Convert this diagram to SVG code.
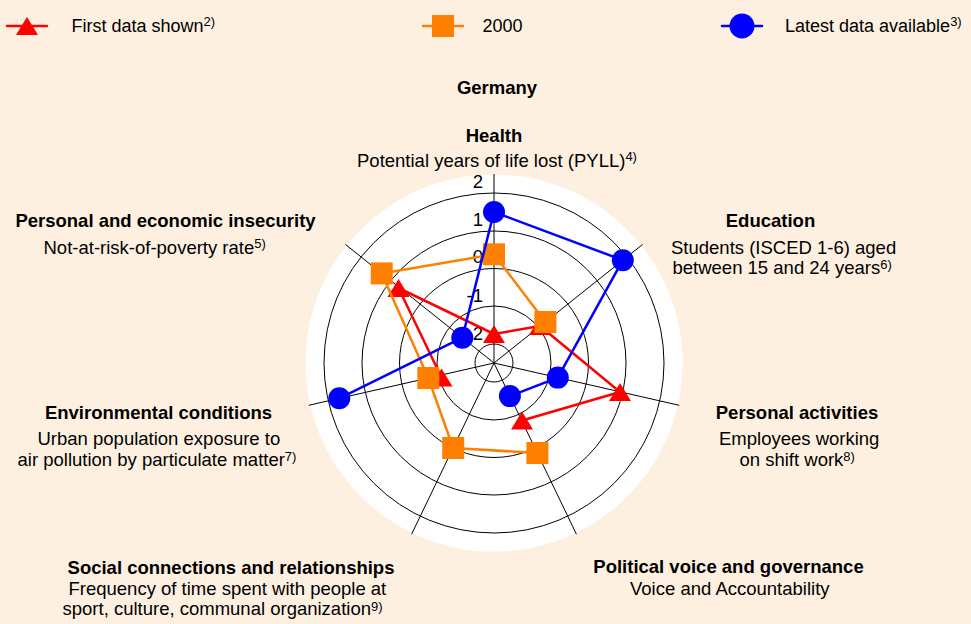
<svg xmlns="http://www.w3.org/2000/svg" width="971" height="624" viewBox="0 0 971 624">
<defs>
<style>
text{font-family:"Liberation Sans",Arial,sans-serif;fill:#000;}
.t{font-size:18.5px;font-weight:bold;}
.s{font-size:18.5px;}
.lg{font-size:18px;}
.sup{font-size:13px;}
.grid{fill:none;stroke:#000;stroke-width:1;}
.ln{fill:none;stroke-width:2.5;stroke-linejoin:round;stroke-linecap:round;}
.red{stroke:#FF0000;}
.org{stroke:#FF8000;}
.blu{stroke:#0000FF;}
</style>
<path id="tri" d="M0,-9 L11,9 L-11,9 Z" fill="#FF0000"/>
<rect id="sq" x="-11" y="-11" width="22" height="22" fill="#FF8000"/>
<circle id="dot" r="11" fill="#0000FF"/>
</defs>
<rect x="0" y="0" width="971" height="624" fill="#FEF0E1"/>

<g id="legend">
<line class="ln red" x1="7" y1="26" x2="47" y2="26"/>
<use href="#tri" x="27" y="26"/>
<text class="lg" x="71.5" y="32">First data shown<tspan class="sup" dy="-6">2)</tspan></text>
<line class="ln org" x1="423" y1="26" x2="463" y2="26"/>
<use href="#sq" x="443" y="26"/>
<text class="lg" x="482.5" y="32">2000</text>
<line class="ln blu" x1="722" y1="26" x2="762" y2="26"/>
<circle cx="742" cy="26" r="12.5" fill="#0000FF"/>
<text class="lg" x="785" y="32">Latest data available<tspan class="sup" dy="-6">3)</tspan></text>
</g>

<g id="title">
<text class="t" x="497" y="94" text-anchor="middle">Germany</text>
</g>

<g id="grid">
<circle cx="494" cy="363" r="188.5" fill="#FFFFFF"/>
<circle class="grid" cx="494" cy="363" r="19"/>
<circle class="grid" cx="494" cy="363" r="57"/>
<circle class="grid" cx="494" cy="363" r="94.5"/>
<circle class="grid" cx="494" cy="363" r="132"/>
<circle class="grid" cx="494" cy="363" r="170"/>
<line class="grid" x1="494" y1="363" x2="494" y2="174"/>
<line class="grid" x1="494" y1="363" x2="642.5" y2="244.5"/>
<line class="grid" x1="494" y1="363" x2="679.2" y2="405.3"/>
<line class="grid" x1="494" y1="363" x2="576.4" y2="534.2"/>
<line class="grid" x1="494" y1="363" x2="411.6" y2="534.2"/>
<line class="grid" x1="494" y1="363" x2="308.8" y2="405.3"/>
<line class="grid" x1="494" y1="363" x2="345.5" y2="244.5"/>
<text class="s" x="483" y="188" text-anchor="end">2</text>
<text class="s" x="483" y="225.5" text-anchor="end">1</text>
<text class="s" x="483" y="263" text-anchor="end">0</text>
<text class="s" x="483" y="301.5" text-anchor="end">-1</text>
<text class="s" x="483" y="339.5" text-anchor="end">-2</text>
</g>

<g id="node-health">
<text class="t" x="494" y="141.5" text-anchor="middle">Health</text>
<text class="s" x="357" y="166.5">Potential years of life lost (PYLL)<tspan class="sup" dy="-6">4)</tspan></text>
</g>
<g id="node-education">
<text class="t" x="770.5" y="226.5" text-anchor="middle">Education</text>
<text class="s" x="671" y="253.5">Students (ISCED 1-6) aged</text>
<text class="s" x="672.5" y="274">between 15 and 24 years<tspan class="sup" dy="-5">6)</tspan></text>
</g>
<g id="node-personal-activities">
<text class="t" x="797" y="418.5" text-anchor="middle">Personal activities</text>
<text class="s" x="719" y="445">Employees working</text>
<text class="s" x="739.5" y="466">on shift work<tspan class="sup" dy="-5">8)</tspan></text>
</g>
<g id="node-political">
<text class="t" x="728.5" y="572.5" text-anchor="middle">Political voice and governance</text>
<text class="s" x="630" y="595">Voice and Accountability</text>
</g>
<g id="node-social">
<text class="t" x="231" y="573.5" text-anchor="middle">Social connections and relationships</text>
<text class="s" x="68.5" y="595">Frequency of time spent with people at</text>
<text class="s" x="62.5" y="615">sport, culture, communal organization<tspan class="sup" dy="-4">9)</tspan></text>
</g>
<g id="node-environment">
<text class="t" x="158.5" y="418.5" text-anchor="middle">Environmental conditions</text>
<text class="s" x="37.5" y="445">Urban population exposure to</text>
<text class="s" x="17.5" y="466">air pollution by particulate matter<tspan class="sup" dy="-5">7)</tspan></text>
</g>
<g id="node-insecurity">
<text class="t" x="165.5" y="226.5" text-anchor="middle">Personal and economic insecurity</text>
<text class="s" x="43.5" y="254">Not-at-risk-of-poverty rate<tspan class="sup" dy="-6">5)</tspan></text>
</g>

<g id="connectors">
<g id="series-first">
<polyline class="ln red" points="441.5,377.5 398.5,288 494,334 540,326 620,392 522,420.5"/>
<use href="#tri" x="441.5" y="377.5"/>
<use href="#tri" x="398.5" y="288"/>
<use href="#tri" x="494" y="334"/>
<use href="#tri" x="540" y="326"/>
<use href="#tri" x="620" y="392"/>
<use href="#tri" x="522" y="420.5"/>
</g>
<g id="series-2000">
<polyline class="ln org" points="537.4,453 453.2,448 428.3,378 381.7,273.4 494,254.3 545.4,322"/>
<use href="#sq" x="537.4" y="453"/>
<use href="#sq" x="453.2" y="448"/>
<use href="#sq" x="428.3" y="378"/>
<use href="#sq" x="381.7" y="273.4"/>
<use href="#sq" x="494" y="254.3"/>
<use href="#sq" x="545.4" y="322"/>
</g>
<g id="series-latest">
<polyline class="ln blu" points="339.3,398.3 462.3,337.7 494,212 622.8,260.2 557.8,377.6 509.9,396.1"/>
<use href="#dot" x="339.3" y="398.3"/>
<use href="#dot" x="462.3" y="337.7"/>
<use href="#dot" x="494" y="212"/>
<use href="#dot" x="622.8" y="260.2"/>
<use href="#dot" x="557.8" y="377.6"/>
<use href="#dot" x="509.9" y="396.1"/>
</g>
</g>
</svg>
